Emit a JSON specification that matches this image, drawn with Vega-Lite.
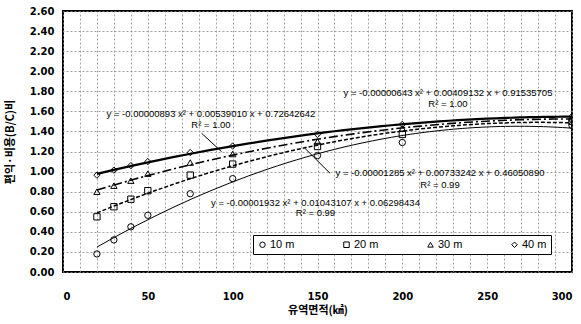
{
  "$schema": "https://vega.github.io/schema/vega-lite/v6.json",
  "width": 509,
  "height": 261,
  "autosize": "none",
  "padding": {"left": 63, "top": 11, "right": 9, "bottom": 52},
  "background": "white",
  "config": {"view": {"stroke": "black", "strokeWidth": 2}, "font": "DejaVu Sans"},
  "datasets": {
    "pts": [
      {"series": "10 m", "x": 20, "y": 0.18}, {"series": "10 m", "x": 30, "y": 0.32}, {"series": "10 m", "x": 40, "y": 0.45},
      {"series": "10 m", "x": 50, "y": 0.565}, {"series": "10 m", "x": 75, "y": 0.78}, {"series": "10 m", "x": 100, "y": 0.93},
      {"series": "10 m", "x": 150, "y": 1.16}, {"series": "10 m", "x": 200, "y": 1.29}, {"series": "10 m", "x": 300, "y": 1.46},
      {"series": "20 m", "x": 20, "y": 0.55}, {"series": "20 m", "x": 30, "y": 0.65}, {"series": "20 m", "x": 40, "y": 0.725},
      {"series": "20 m", "x": 50, "y": 0.81}, {"series": "20 m", "x": 75, "y": 0.965}, {"series": "20 m", "x": 100, "y": 1.075},
      {"series": "20 m", "x": 150, "y": 1.25}, {"series": "20 m", "x": 200, "y": 1.37}, {"series": "20 m", "x": 300, "y": 1.5},
      {"series": "30 m", "x": 20, "y": 0.8}, {"series": "30 m", "x": 30, "y": 0.86}, {"series": "30 m", "x": 40, "y": 0.91},
      {"series": "30 m", "x": 50, "y": 0.98}, {"series": "30 m", "x": 75, "y": 1.09}, {"series": "30 m", "x": 100, "y": 1.175},
      {"series": "30 m", "x": 150, "y": 1.3}, {"series": "30 m", "x": 200, "y": 1.43}, {"series": "30 m", "x": 300, "y": 1.53},
      {"series": "40 m", "x": 20, "y": 0.965}, {"series": "40 m", "x": 30, "y": 1.015}, {"series": "40 m", "x": 40, "y": 1.06},
      {"series": "40 m", "x": 50, "y": 1.1}, {"series": "40 m", "x": 75, "y": 1.19}, {"series": "40 m", "x": 100, "y": 1.255},
      {"series": "40 m", "x": 150, "y": 1.37}, {"series": "40 m", "x": 200, "y": 1.47}, {"series": "40 m", "x": 300, "y": 1.55}
    ],
    "eqs": [
      {"x": 148.8, "y": 0.69, "label": "y = -0.00001932 x² + 0.01043107 x + 0.06298434"},
      {"x": 148.8, "y": 0.585, "label": "R² = 0.99"},
      {"x": 222.2, "y": 0.983, "label": "y = -0.00001285 x² + 0.00733242 x + 0.46050890"},
      {"x": 222.2, "y": 0.867, "label": "R² = 0.99"},
      {"x": 87.2, "y": 1.574, "label": "y = -0.00000893 x² + 0.00539010 x + 0.72642642"},
      {"x": 87.2, "y": 1.464, "label": "R² = 1.00"},
      {"x": 226.9, "y": 1.78, "label": "y = -0.00000643 x² + 0.00409132 x + 0.91535705"},
      {"x": 226.9, "y": 1.674, "label": "R² = 1.00"}
    ],
    "leaders": [
      {"x": 81.7, "y": 1.382, "x2": 93.5, "y2": 1.198},
      {"x": 157.4, "y": 0.983, "x2": 142.6, "y2": 1.232}
    ]
  },
  "layer": [
    {
      "data": {"name": "pts"},
      "transform": [{"filter": "datum.series === '10 m'"}, {"regression": "y", "on": "x", "method": "poly", "order": 2, "extent": [20, 300]}],
      "mark": {"type": "line", "color": "black", "strokeWidth": 1},
      "encoding": {
        "x": {"field": "x", "type": "quantitative", "scale": {"domain": [0, 300], "nice": false},
          "axis": {"orient": "top", "values": [0,10,20,30,40,50,60,70,80,90,100,110,120,130,140,150,160,170,180,190,200,210,220,230,240,250,260,270,280,290,300],
            "labels": false, "ticks": false, "domain": false, "title": null, "grid": true, "gridColor": "#8a8a8a", "gridDash": [2, 2], "gridWidth": 0.8}},
        "y": {"field": "y", "type": "quantitative", "scale": {"domain": [0, 2.6], "nice": false},
          "axis": {"orient": "right", "values": [0,0.2,0.4,0.6,0.8,1,1.2,1.4,1.6,1.8,2,2.2,2.4,2.6],
            "labels": false, "ticks": false, "domain": false, "title": null, "grid": true, "gridColor": "#8a8a8a", "gridDash": [2, 2], "gridWidth": 0.8}}
      }
    },
    {
      "data": {"name": "pts"},
      "transform": [{"filter": "datum.series === '20 m'"}, {"regression": "y", "on": "x", "method": "poly", "order": 2, "extent": [20, 300]}],
      "mark": {"type": "line", "color": "black", "strokeWidth": 1.5, "strokeDash": [4, 2]},
      "encoding": {
        "x": {"field": "x", "type": "quantitative", "axis": null},
        "y": {"field": "y", "type": "quantitative", "axis": null}
      }
    },
    {
      "data": {"name": "pts"},
      "transform": [{"filter": "datum.series === '30 m'"}, {"regression": "y", "on": "x", "method": "poly", "order": 2, "extent": [20, 300]}],
      "mark": {"type": "line", "color": "black", "strokeWidth": 1.6, "strokeDash": [9, 3, 2, 3]},
      "encoding": {
        "x": {"field": "x", "type": "quantitative", "axis": null},
        "y": {"field": "y", "type": "quantitative", "axis": null}
      }
    },
    {
      "data": {"name": "pts"},
      "transform": [{"filter": "datum.series === '40 m'"}, {"regression": "y", "on": "x", "method": "poly", "order": 2, "extent": [20, 300]}],
      "mark": {"type": "line", "color": "black", "strokeWidth": 2.2},
      "encoding": {
        "x": {"field": "x", "type": "quantitative", "axis": null},
        "y": {"field": "y", "type": "quantitative", "axis": null}
      }
    },
    {
      "data": {"name": "pts"},
      "mark": {"type": "point", "filled": false, "stroke": "black", "strokeWidth": 1, "size": 40, "opacity": 1, "clip": true},
      "encoding": {
        "x": {"field": "x", "type": "quantitative",
          "axis": {"orient": "bottom", "values": [0, 50, 100, 150, 200, 250, 300], "grid": false, "ticks": false, "domain": false, "labelPadding": 19,
            "labelFont": "DejaVu Sans", "labelFontWeight": "bold", "labelFontSize": 10, "labelColor": "black",
            "title": "유역면적(㎢)", "titleFont": "Noto Sans CJK KR", "titleFontWeight": "bold", "titleFontSize": 11, "titleColor": "black", "titlePadding": 3}},
        "y": {"field": "y", "type": "quantitative",
          "axis": {"orient": "left", "values": [0,0.2,0.4,0.6,0.8,1,1.2,1.4,1.6,1.8,2,2.2,2.4,2.6], "format": ".2f", "grid": false, "ticks": false, "domain": false, "labelPadding": 9,
            "labelFont": "DejaVu Sans", "labelFontWeight": "bold", "labelFontSize": 10, "labelColor": "black",
            "title": "편익·비용(B/C)비", "titleFont": "Noto Sans CJK KR", "titleFontWeight": "bold", "titleFontSize": 11, "titleColor": "black", "titlePadding": 14}},
        "shape": {"field": "series", "type": "nominal",
          "scale": {"domain": ["10 m", "20 m", "30 m", "40 m"], "range": ["circle", "square", "triangle-up", "diamond"]},
          "legend": {"orient": "none", "legendX": 190, "legendY": 224, "direction": "horizontal", "title": null,
            "strokeColor": "black", "fillColor": "white", "padding": 4, "columnPadding": 46,
            "labelFont": "Liberation Sans", "labelFontSize": 11, "labelColor": "black", "labelOffset": 2,
            "symbolSize": 30, "symbolStrokeColor": "black", "symbolFillColor": "white", "symbolStrokeWidth": 1}}
      }
    },
    {
      "data": {"name": "eqs"},
      "mark": {"type": "text", "font": "Liberation Sans", "fontSize": 9.5, "color": "black", "align": "center", "baseline": "middle"},
      "encoding": {
        "x": {"field": "x", "type": "quantitative", "axis": null},
        "y": {"field": "y", "type": "quantitative", "axis": null},
        "text": {"field": "label"}
      }
    },
    {
      "data": {"name": "leaders"},
      "mark": {"type": "rule", "color": "black", "strokeWidth": 1},
      "encoding": {
        "x": {"field": "x", "type": "quantitative", "axis": null},
        "y": {"field": "y", "type": "quantitative", "axis": null},
        "x2": {"field": "x2"},
        "y2": {"field": "y2"}
      }
    }
  ],
  "resolve": {"axis": {"x": "independent", "y": "independent"}}
}
